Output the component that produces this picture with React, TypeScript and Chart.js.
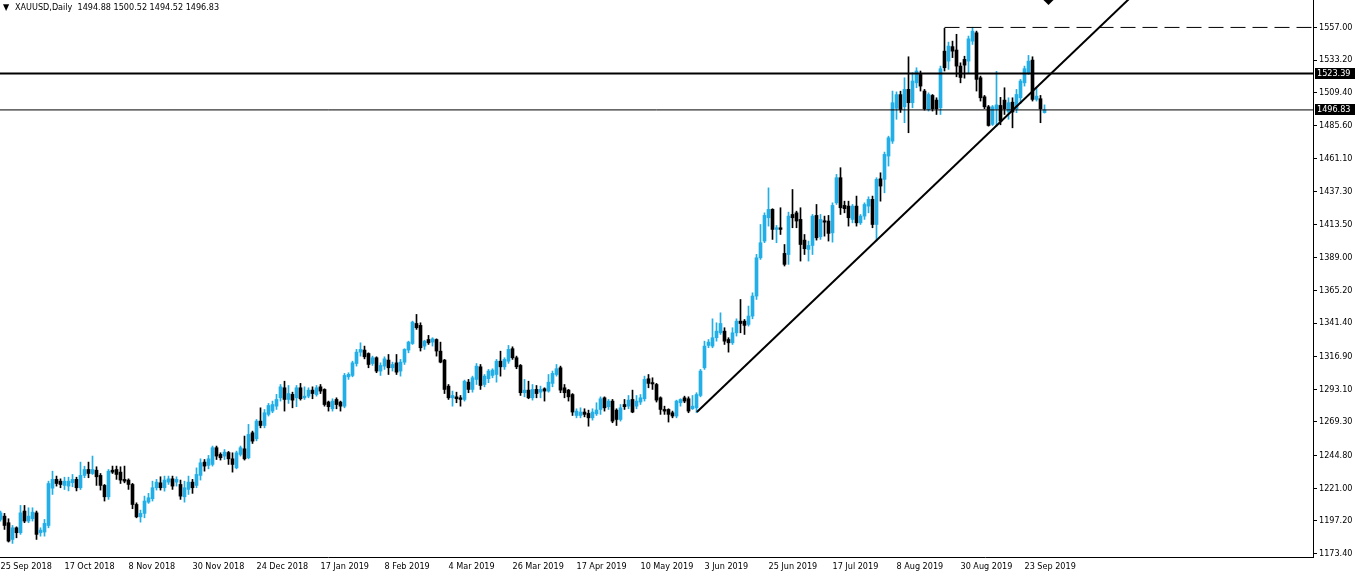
import React, { useEffect, useRef } from 'react';
import { Chart, registerables } from 'chart.js';

Chart.register(...registerables);

// ---------- data ----------
const symbolTitle = 'XAUUSD,Daily';
const dateLabels = [
  '25 Sep 2018', '17 Oct 2018', '8 Nov 2018', '30 Nov 2018', '24 Dec 2018', '17 Jan 2019',
  '8 Feb 2019', '4 Mar 2019', '26 Mar 2019', '17 Apr 2019', '10 May 2019', '3 Jun 2019',
  '25 Jun 2019', '17 Jul 2019', '8 Aug 2019', '30 Aug 2019', '23 Sep 2019',
];
const barsPerLabel = 16;

const opens = [
  1198.2, 1200.6, 1195.8, 1183.6, 1192.1, 1188.5, 1204.3, 1197.0, 1198.7, 1203.0,
  1188.5, 1189.0, 1193.8, 1221.0, 1227.4, 1226.1, 1223.0, 1222.5, 1225.0, 1227.4,
  1221.3, 1230.3, 1234.6, 1231.7, 1234.1, 1230.3, 1223.0, 1214.7, 1234.1, 1234.6,
  1232.7, 1227.4, 1226.9, 1223.7, 1209.1, 1200.1, 1202.6, 1210.8, 1213.3, 1221.3,
  1224.9, 1221.3, 1225.4, 1227.8, 1225.4, 1223.7, 1214.7, 1220.1, 1225.4, 1223.0,
  1230.3, 1240.0, 1237.6, 1238.3, 1250.5, 1245.6, 1244.4, 1247.0, 1242.4, 1235.8,
  1245.6, 1249.7, 1243.2, 1261.4, 1257.0, 1269.9, 1266.7, 1274.8, 1277.2, 1280.8,
  1286.9, 1294.2, 1285.7, 1289.4, 1286.9, 1294.2, 1286.9, 1288.1, 1292.5, 1289.3,
  1294.9, 1293.0, 1283.8, 1278.9, 1285.7, 1283.8, 1280.8, 1302.2, 1303.2, 1311.9,
  1320.2, 1321.7, 1319.2, 1311.9, 1316.1, 1306.4, 1310.0, 1314.4, 1308.8, 1312.4,
  1306.4, 1312.9, 1321.7, 1326.5, 1341.1, 1339.7, 1324.6, 1329.4, 1327.5, 1329.4,
  1320.9, 1314.4, 1295.4, 1286.9, 1287.6, 1286.9, 1285.7, 1298.3, 1293.0, 1300.3,
  1309.5, 1296.6, 1300.8, 1303.2, 1303.9, 1313.6, 1309.5, 1313.6, 1322.7, 1316.1,
  1310.5, 1290.6, 1292.5, 1286.9, 1293.0, 1291.0, 1293.5, 1291.8, 1297.4, 1303.9,
  1308.8, 1294.2, 1292.5, 1289.3, 1274.0, 1274.0, 1276.5, 1275.5, 1272.3, 1275.2,
  1278.4, 1286.9, 1280.4, 1284.5, 1277.9, 1271.1, 1282.0, 1280.8, 1285.7, 1280.8,
  1283.8, 1286.2, 1300.8, 1298.0, 1296.6, 1286.9, 1278.4, 1278.4, 1276.0, 1273.6,
  1283.3, 1286.9, 1286.2, 1278.9, 1279.6, 1288.6, 1308.8, 1325.1, 1324.6, 1330.7,
  1334.3, 1335.5, 1329.4, 1327.0, 1334.3, 1342.8, 1342.8, 1340.4, 1346.5, 1361.1,
  1389.0, 1401.2, 1418.2, 1424.3, 1409.7, 1410.9, 1392.2, 1391.4, 1420.6, 1421.8,
  1417.0, 1401.9, 1395.1, 1398.0, 1419.9, 1404.3, 1416.0, 1415.8, 1407.2, 1429.1,
  1447.4, 1427.2, 1426.7, 1417.0, 1426.7, 1414.5, 1419.4, 1426.7, 1431.6, 1413.3,
  1446.6, 1446.2, 1463.2, 1474.1, 1498.0, 1508.0, 1499.1, 1511.8, 1502.1, 1516.6,
  1522.7, 1510.6, 1497.2, 1507.4, 1504.0, 1498.4, 1539.7, 1532.4, 1543.0, 1540.5,
  1528.8, 1533.7, 1532.4, 1547.0, 1553.1, 1520.3, 1506.4, 1499.1, 1486.3, 1497.5,
  1500.1, 1504.0, 1495.3, 1502.5, 1497.7, 1505.7, 1516.6, 1524.0, 1533.2, 1504.5,
  1505.0, 1494.88,
];
const highs = [
  1204.3, 1202.6, 1198.7, 1193.8, 1192.8, 1208.4, 1208.4, 1206.7, 1206.7, 1204.3,
  1192.1, 1198.2, 1226.1, 1233.4, 1229.8, 1227.8, 1229.0, 1229.0, 1231.0, 1229.0,
  1240.0, 1237.0, 1240.0, 1244.4, 1236.6, 1231.7, 1223.7, 1234.6, 1237.1, 1237.1,
  1236.6, 1237.1, 1227.8, 1224.5, 1210.3, 1205.0, 1215.2, 1217.2, 1226.1, 1227.4,
  1229.3, 1229.8, 1229.8, 1229.8, 1229.3, 1226.9, 1226.1, 1229.8, 1227.4, 1235.8,
  1242.4, 1241.9, 1244.9, 1251.7, 1251.7, 1246.8, 1249.2, 1247.8, 1246.8, 1248.0,
  1251.7, 1259.0, 1267.5, 1262.6, 1271.1, 1279.6, 1278.4, 1282.8, 1284.5, 1289.4,
  1296.6, 1299.0, 1295.9, 1291.0, 1295.9, 1297.4, 1294.9, 1294.2, 1294.9, 1295.9,
  1296.6, 1293.5, 1284.5, 1286.2, 1286.9, 1284.5, 1304.7, 1305.2, 1313.6, 1322.2,
  1327.0, 1324.6, 1319.7, 1317.3, 1316.8, 1312.4, 1316.8, 1318.5, 1312.9, 1318.5,
  1314.9, 1322.7, 1328.2, 1342.8, 1347.7, 1341.6, 1328.9, 1332.4, 1330.7, 1329.9,
  1327.5, 1314.9, 1296.6, 1291.8, 1291.0, 1288.6, 1299.8, 1300.3, 1302.7, 1311.9,
  1311.2, 1303.9, 1307.6, 1308.1, 1314.9, 1320.9, 1316.1, 1325.1, 1324.1, 1317.3,
  1311.2, 1300.3, 1299.0, 1296.6, 1295.9, 1295.4, 1294.2, 1303.9, 1306.4, 1311.2,
  1310.0, 1296.6, 1293.0, 1290.0, 1278.9, 1279.6, 1278.9, 1277.9, 1278.9, 1283.3,
  1287.6, 1287.6, 1285.7, 1285.7, 1278.9, 1282.0, 1285.7, 1288.6, 1292.5, 1288.6,
  1289.3, 1302.7, 1303.9, 1301.5, 1297.4, 1287.6, 1280.8, 1278.9, 1277.2, 1285.2,
  1286.2, 1288.1, 1287.6, 1288.6, 1290.6, 1307.6, 1328.2, 1329.4, 1344.5, 1341.6,
  1348.9, 1338.0, 1330.7, 1338.0, 1344.5, 1358.6, 1344.0, 1353.8, 1363.5, 1391.5,
  1413.3, 1421.8, 1440.0, 1424.8, 1412.6, 1425.5, 1398.7, 1422.3, 1438.8, 1423.0,
  1425.5, 1406.0, 1401.2, 1420.6, 1427.9, 1420.6, 1419.4, 1419.9, 1429.1, 1449.8,
  1454.7, 1430.3, 1430.3, 1427.9, 1434.0, 1420.6, 1429.1, 1433.5, 1434.0, 1447.4,
  1451.0, 1466.1, 1477.7, 1510.6, 1510.0, 1510.5, 1520.3, 1535.6, 1524.0, 1527.6,
  1525.2, 1511.8, 1509.3, 1508.1, 1505.7, 1528.8, 1556.3, 1546.3, 1547.0, 1552.0,
  1531.2, 1536.0, 1550.7, 1557.1, 1554.3, 1521.5, 1507.4, 1500.1, 1500.1, 1525.0,
  1506.0, 1513.0, 1505.7, 1505.7, 1511.8, 1519.1, 1528.8, 1536.6, 1535.6, 1513.0,
  1507.4, 1500.52,
];
const lows = [
  1197.0, 1190.9, 1181.7, 1180.7, 1184.8, 1187.3, 1195.8, 1195.8, 1197.0, 1183.6,
  1186.0, 1186.0, 1192.1, 1216.4, 1222.5, 1221.3, 1220.0, 1219.0, 1222.0, 1219.0,
  1220.0, 1228.6, 1228.6, 1231.0, 1223.0, 1219.6, 1211.6, 1212.8, 1231.7, 1227.4,
  1224.4, 1224.9, 1220.1, 1206.0, 1199.4, 1196.2, 1199.4, 1209.9, 1211.6, 1219.6,
  1219.6, 1218.8, 1223.7, 1220.1, 1222.5, 1212.8, 1210.8, 1216.4, 1217.2, 1221.3,
  1226.9, 1233.4, 1235.1, 1237.1, 1241.9, 1241.5, 1241.9, 1238.3, 1232.7, 1235.1,
  1244.4, 1241.5, 1242.4, 1253.6, 1255.5, 1265.0, 1265.0, 1273.6, 1276.0, 1278.4,
  1284.5, 1277.2, 1282.8, 1279.6, 1280.4, 1285.2, 1285.7, 1286.9, 1286.2, 1288.1,
  1290.0, 1280.8, 1277.2, 1277.2, 1278.9, 1277.2, 1279.6, 1300.3, 1302.2, 1310.0,
  1317.3, 1315.3, 1308.8, 1310.5, 1305.2, 1303.2, 1307.6, 1303.9, 1306.4, 1303.9,
  1302.7, 1311.2, 1319.7, 1325.8, 1336.8, 1321.0, 1322.2, 1325.8, 1324.6, 1317.3,
  1312.4, 1290.0, 1285.7, 1280.8, 1283.3, 1280.8, 1284.5, 1290.6, 1291.0, 1296.6,
  1293.0, 1294.9, 1297.9, 1301.5, 1298.3, 1302.7, 1307.6, 1312.0, 1314.9, 1308.1,
  1288.6, 1287.6, 1286.2, 1285.2, 1286.9, 1286.9, 1284.5, 1291.0, 1294.9, 1302.7,
  1290.6, 1286.9, 1284.5, 1274.0, 1272.3, 1272.3, 1273.0, 1266.2, 1270.6, 1274.0,
  1274.8, 1277.2, 1278.4, 1268.7, 1266.7, 1269.9, 1278.4, 1278.9, 1276.0, 1278.9,
  1282.0, 1284.5, 1294.2, 1293.0, 1283.8, 1274.8, 1274.8, 1269.2, 1272.3, 1272.3,
  1280.8, 1283.3, 1276.0, 1278.4, 1276.0, 1287.6, 1307.6, 1323.4, 1323.4, 1328.2,
  1333.1, 1325.8, 1320.2, 1325.8, 1331.9, 1334.3, 1333.1, 1339.2, 1344.5, 1358.6,
  1387.8, 1400.0, 1412.1, 1402.4, 1400.0, 1406.0, 1383.0, 1384.2, 1410.9, 1410.9,
  1386.6, 1391.4, 1386.6, 1391.4, 1401.9, 1402.4, 1404.8, 1401.2, 1400.4, 1427.9,
  1420.6, 1421.8, 1412.1, 1414.5, 1412.1, 1413.3, 1417.0, 1421.8, 1410.9, 1401.2,
  1430.3, 1436.4, 1455.9, 1472.4, 1490.0, 1495.0, 1487.5, 1480.2, 1498.4, 1513.0,
  1510.6, 1496.7, 1496.0, 1496.0, 1493.5, 1493.5, 1525.2, 1526.4, 1535.0, 1521.0,
  1516.6, 1520.0, 1523.9, 1544.6, 1510.6, 1503.3, 1497.7, 1485.0, 1485.5, 1485.0,
  1486.0, 1493.5, 1490.0, 1483.8, 1494.8, 1501.5, 1514.2, 1522.7, 1503.3, 1503.3,
  1487.5, 1494.52,
];
const closes = [
  1203.0, 1193.8, 1182.4, 1192.1, 1188.5, 1203.0, 1197.0, 1200.6, 1203.5, 1187.3,
  1190.4, 1195.3, 1224.4, 1227.4, 1224.4, 1223.7, 1226.1, 1226.1, 1227.4, 1221.3,
  1230.3, 1234.6, 1231.7, 1234.6, 1229.3, 1223.0, 1214.7, 1233.4, 1232.7, 1231.0,
  1226.9, 1226.1, 1223.7, 1209.1, 1200.1, 1202.6, 1211.6, 1214.0, 1221.3, 1225.4,
  1221.3, 1226.9, 1227.8, 1222.5, 1227.4, 1215.2, 1221.3, 1225.4, 1221.3, 1231.0,
  1239.5, 1237.1, 1242.4, 1250.5, 1244.4, 1243.2, 1247.3, 1242.4, 1238.3, 1246.8,
  1250.5, 1242.4, 1260.2, 1255.3, 1269.9, 1266.7, 1276.0, 1281.3, 1282.0, 1285.7,
  1294.9, 1285.7, 1290.0, 1285.2, 1294.2, 1286.2, 1288.1, 1292.5, 1290.0, 1294.2,
  1291.8, 1282.0, 1280.4, 1284.5, 1282.0, 1280.8, 1303.2, 1304.0, 1312.4, 1320.2,
  1322.2, 1316.8, 1311.2, 1316.1, 1306.4, 1310.5, 1315.3, 1308.8, 1311.2, 1305.6,
  1312.9, 1322.2, 1327.5, 1342.1, 1338.0, 1323.4, 1328.2, 1327.0, 1329.9, 1321.0,
  1312.9, 1293.0, 1286.9, 1288.6, 1286.2, 1285.7, 1299.0, 1293.0, 1301.5, 1310.0,
  1295.9, 1302.7, 1306.4, 1307.1, 1313.6, 1309.5, 1314.9, 1322.2, 1316.1, 1309.5,
  1290.6, 1292.5, 1286.9, 1293.0, 1290.0, 1293.0, 1291.8, 1298.3, 1304.7, 1308.1,
  1292.5, 1290.6, 1287.6, 1276.5, 1277.2, 1276.5, 1274.8, 1272.3, 1276.5, 1278.0,
  1286.2, 1279.6, 1284.5, 1269.9, 1271.1, 1279.6, 1280.4, 1285.2, 1276.5, 1284.5,
  1286.9, 1300.3, 1297.4, 1297.0, 1285.2, 1278.4, 1277.2, 1274.8, 1273.6, 1284.5,
  1285.7, 1284.5, 1277.2, 1280.8, 1289.3, 1306.4, 1324.6, 1327.5, 1330.7, 1335.5,
  1341.1, 1328.2, 1327.0, 1334.3, 1342.8, 1341.1, 1339.7, 1346.5, 1361.1, 1389.0,
  1400.0, 1419.9, 1424.3, 1409.7, 1410.9, 1409.7, 1384.2, 1419.4, 1418.2, 1415.8,
  1398.7, 1395.6, 1398.0, 1419.4, 1403.6, 1417.0, 1415.0, 1406.8, 1427.2, 1447.4,
  1425.5, 1424.8, 1418.2, 1426.7, 1414.5, 1419.4, 1427.9, 1431.6, 1413.3, 1446.2,
  1441.3, 1464.4, 1476.5, 1502.1, 1508.0, 1497.2, 1511.8, 1502.1, 1517.9, 1525.2,
  1514.2, 1497.7, 1508.1, 1497.7, 1497.7, 1526.9, 1527.6, 1543.4, 1539.7, 1528.8,
  1520.5, 1529.5, 1548.7, 1554.3, 1519.1, 1505.7, 1499.1, 1485.5, 1499.1, 1500.5,
  1488.7, 1497.7, 1502.1, 1495.3, 1508.1, 1517.9, 1526.9, 1532.4, 1504.5, 1506.9,
  1497.7, 1496.83,
];

const priceTicks = [
  1173.4, 1197.2, 1221.0, 1244.8, 1269.3, 1293.1, 1316.9, 1341.4, 1365.2,
  1389.0, 1413.5, 1437.3, 1461.1, 1485.6, 1509.4, 1533.2, 1557.0,
];

// drawn objects (values in bar-index / price units)
const resistanceLevel = 1523.39;
const bidLevel = 1496.83;
const swingHighLevel = 1557.0;
const swingHighStartBar = 236;
const trendStart = [174.1, 1276.5];
const trendEnd = [300, 1627.6];
const arrowMark = [262, 1577.7];

// ---------- style ----------
const BULL = '#22AEE6';
const BEAR = '#000000';
const FONT_FAMILY = "'DejaVu Sans Condensed', 'DejaVu Sans', sans-serif";
const FONT_SIZE = 9;
const X_MIN = -0.125;
const X_MAX = 328.125;
const Y_MIN = 1170.8;
const Y_MAX = 1577.0;

const overlayPlugin = {
  id: 'mtOverlay',
  afterDraw(chart: any) {
    const ctx = chart.ctx;
    const yScale = chart.scales.y;
    const area = chart.chartArea;
    const last = opens.length - 1;
    ctx.save();
    ctx.font = `${FONT_SIZE}px ${FONT_FAMILY}`;
    ctx.textBaseline = 'middle';
    ctx.textAlign = 'left';
    ctx.fillStyle = '#000';
    ctx.fillText('▼', 3, 8);
    const ohlc = [opens[last], highs[last], lows[last], closes[last]].map((v) => v.toFixed(2)).join(' ');
    ctx.fillText(`${symbolTitle}  ${ohlc}`, 15, 8);
    for (const lvl of [resistanceLevel, bidLevel]) {
      const py = Math.round(yScale.getPixelForValue(lvl));
      ctx.fillStyle = '#000';
      ctx.fillRect(area.right + 2, py - 6, 40, 11);
      ctx.fillStyle = '#fff';
      ctx.fillText(lvl.toFixed(2), area.right + 4, py - 0.5);
    }
    ctx.restore();
  },
};

export default function App() {
  const ref = useRef<HTMLCanvasElement>(null);

  useEffect(() => {
    document.body.style.margin = '0';
    const idx = opens.map((_, i) => i);
    const barColors = idx.map((i) => (closes[i] >= opens[i] ? BULL : BEAR));
    const font = { family: FONT_FAMILY, size: FONT_SIZE };

    const chart = new Chart(ref.current as HTMLCanvasElement, {
      type: 'bar',
      data: {
        datasets: [
          {
            type: 'line',
            label: 'resistance',
            data: [{ x: X_MIN, y: resistanceLevel }, { x: X_MAX, y: resistanceLevel }],
            borderColor: '#000',
            borderWidth: 2,
            pointRadius: 0,
            order: 0,
          },
          {
            type: 'line',
            label: 'bid',
            data: [{ x: X_MIN, y: bidLevel }, { x: X_MAX, y: bidLevel }],
            borderColor: '#000',
            borderWidth: 1,
            pointRadius: 0,
            order: 0,
          },
          {
            type: 'line',
            label: 'swing high',
            data: [{ x: swingHighStartBar, y: swingHighLevel }, { x: X_MAX, y: swingHighLevel }],
            borderColor: '#000',
            borderWidth: 1,
            borderDash: [15, 7],
            pointRadius: 0,
            order: 0,
          },
          {
            type: 'line',
            label: 'trend',
            data: [{ x: trendStart[0], y: trendStart[1] }, { x: trendEnd[0], y: trendEnd[1] }],
            borderColor: '#000',
            borderWidth: 2,
            pointRadius: 0,
            order: 0,
          },
          {
            type: 'line',
            label: 'arrow',
            data: [{ x: arrowMark[0], y: arrowMark[1] }],
            showLine: false,
            pointStyle: 'rectRot',
            pointRadius: 6,
            pointBorderWidth: 0,
            pointBackgroundColor: '#000',
            pointBorderColor: '#000',
            clip: false,
            order: 0,
          },
          {
            type: 'bar',
            label: 'body',
            data: idx.map((i) => ({ x: i, y: [opens[i], closes[i]] })),
            backgroundColor: barColors,
            borderWidth: 0,
            barThickness: 3,
            minBarLength: 1,
            grouped: false,
            order: 1,
          },
          {
            type: 'bar',
            label: 'wick',
            data: idx.map((i) => ({ x: i, y: [lows[i], highs[i]] })),
            backgroundColor: barColors,
            borderWidth: 0,
            barThickness: 1,
            grouped: false,
            order: 2,
          },
        ],
      } as any,
      options: {
        animation: false,
        responsive: false,
        devicePixelRatio: 1,
        events: [],
        layout: { padding: 0, autoPadding: false },
        plugins: { legend: { display: false }, tooltip: { enabled: false }, title: { display: false } },
        scales: {
          x: {
            type: 'linear',
            min: X_MIN,
            max: X_MAX,
            offset: false,
            grid: { display: false, drawTicks: false, offset: false },
            border: { display: true, color: '#000', width: 1 },
            ticks: {
              autoSkip: false,
              maxRotation: 0,
              minRotation: 0,
              align: 'start',
              padding: 4,
              color: '#000',
              font,
              callback: (v: any) => dateLabels[Math.round(Number(v) / barsPerLabel)] ?? '',
            },
            afterBuildTicks: (s: any) => {
              s.ticks = dateLabels.map((_, k) => ({ value: k * barsPerLabel }));
            },
            afterFit: (s: any) => {
              s.height = 20;
              s.paddingLeft = 0;
              s.paddingRight = 0;
            },
          },
          y: {
            type: 'linear',
            position: 'right',
            min: Y_MIN,
            max: Y_MAX,
            grid: { display: true, drawOnChartArea: false, drawTicks: true, tickLength: 4, tickColor: '#000', color: '#000' },
            border: { display: true, color: '#000', width: 1 },
            ticks: {
              autoSkip: false,
              padding: 2,
              color: '#000',
              font,
              callback: (v: any) => Number(v).toFixed(2),
            },
            afterBuildTicks: (s: any) => {
              s.ticks = priceTicks.map((v) => ({ value: v }));
            },
            afterFit: (s: any) => {
              s.width = 45;
              s.paddingTop = 0;
              s.paddingBottom = 0;
            },
          },
        },
      } as any,
      plugins: [overlayPlugin],
    });
    return () => chart.destroy();
  }, []);

  return (
    <div style={{ position: 'absolute', left: 0, top: 0, width: 1358, height: 577, background: '#fff' }}>
      <canvas ref={ref} width={1358} height={577} style={{ display: 'block', width: 1358, height: 577 }} />
    </div>
  );
}
